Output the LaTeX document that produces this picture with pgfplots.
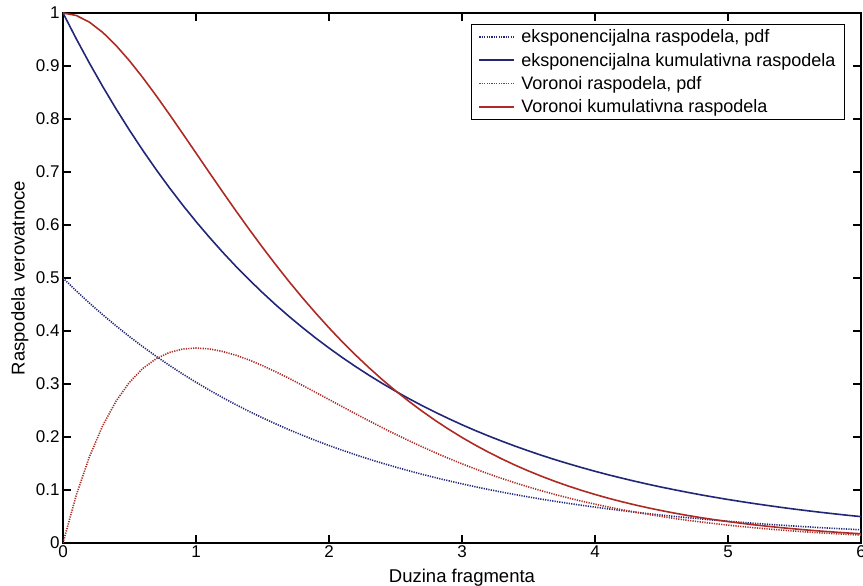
\documentclass[border=0pt]{standalone}
\usepackage{pgfplots}
\pgfplotsset{compat=1.18}
\usepackage{pgfplotstable}
\usepackage{fontspec}
\setmainfont{Liberation Sans}

\definecolor{expblue}{rgb}{0.13,0.15,0.47}
\definecolor{vorred}{rgb}{0.68,0.17,0.14}

% x, exponential pdf, exponential cumulative, Voronoi pdf, Voronoi cumulative
\pgfplotstableread{
x   epdf   ecdf   vpdf   vcdf
0.0 0.5000 1.0000 0.0000 1.0000
0.1 0.4756 0.9512 0.0905 0.9953
0.2 0.4524 0.9048 0.1637 0.9825
0.3 0.4304 0.8607 0.2222 0.9631
0.4 0.4094 0.8187 0.2681 0.9384
0.5 0.3894 0.7788 0.3033 0.9098
0.6 0.3704 0.7408 0.3293 0.8781
0.7 0.3523 0.7047 0.3476 0.8442
0.8 0.3352 0.6703 0.3595 0.8088
0.9 0.3188 0.6376 0.3659 0.7725
1.0 0.3033 0.6065 0.3679 0.7358
1.1 0.2885 0.5770 0.3662 0.6990
1.2 0.2744 0.5488 0.3614 0.6626
1.3 0.2610 0.5220 0.3543 0.6268
1.4 0.2483 0.4966 0.3452 0.5918
1.5 0.2362 0.4724 0.3347 0.5578
1.6 0.2247 0.4493 0.3230 0.5249
1.7 0.2137 0.4274 0.3106 0.4932
1.8 0.2033 0.4066 0.2975 0.4628
1.9 0.1934 0.3867 0.2842 0.4338
2.0 0.1839 0.3679 0.2707 0.4060
2.1 0.1750 0.3499 0.2572 0.3796
2.2 0.1664 0.3329 0.2438 0.3546
2.3 0.1583 0.3166 0.2306 0.3309
2.4 0.1506 0.3012 0.2177 0.3084
2.5 0.1433 0.2865 0.2052 0.2873
2.6 0.1363 0.2725 0.1931 0.2674
2.7 0.1296 0.2592 0.1815 0.2487
2.8 0.1233 0.2466 0.1703 0.2311
2.9 0.1173 0.2346 0.1596 0.2146
3.0 0.1116 0.2231 0.1494 0.1991
3.1 0.1061 0.2122 0.1397 0.1847
3.2 0.1009 0.2019 0.1304 0.1712
3.3 0.0960 0.1921 0.1217 0.1586
3.4 0.0913 0.1827 0.1135 0.1468
3.5 0.0869 0.1738 0.1057 0.1359
3.6 0.0826 0.1653 0.0984 0.1257
3.7 0.0786 0.1572 0.0915 0.1162
3.8 0.0748 0.1496 0.0850 0.1074
3.9 0.0711 0.1423 0.0789 0.0992
4.0 0.0677 0.1353 0.0733 0.0916
4.1 0.0644 0.1287 0.0679 0.0845
4.2 0.0612 0.1225 0.0630 0.0780
4.3 0.0582 0.1165 0.0583 0.0719
4.4 0.0554 0.1108 0.0540 0.0663
4.5 0.0527 0.1054 0.0500 0.0611
4.6 0.0501 0.1003 0.0462 0.0563
4.7 0.0477 0.0954 0.0427 0.0518
4.8 0.0454 0.0907 0.0395 0.0477
4.9 0.0431 0.0863 0.0365 0.0439
5.0 0.0410 0.0821 0.0337 0.0404
5.1 0.0390 0.0781 0.0311 0.0372
5.2 0.0371 0.0743 0.0287 0.0342
5.3 0.0353 0.0707 0.0265 0.0315
5.4 0.0336 0.0672 0.0244 0.0289
5.5 0.0320 0.0639 0.0225 0.0266
5.6 0.0304 0.0608 0.0207 0.0244
5.7 0.0289 0.0578 0.0191 0.0224
5.8 0.0275 0.0550 0.0176 0.0206
5.9 0.0262 0.0523 0.0162 0.0189
6.0 0.0249 0.0498 0.0149 0.0174
}\dist

\begin{document}
\begin{tikzpicture}
\useasboundingbox (-63pt,-43pt) rectangle (800pt,543pt);
\clip (-63pt,-43pt) rectangle (800pt,543pt);
\begin{axis}[
  at={(0pt,0pt)}, anchor=south west,
  scale only axis,
  width=798pt, height=530pt,
  xmin=0, xmax=6, ymin=0, ymax=1,
  xtick={0,1,2,3,4,5,6},
  ytick={0,0.1,0.2,0.3,0.4,0.5,0.6,0.7,0.8,0.9,1},
  yticklabels={0,0.1,0.2,0.3,0.4,0.5,0.6,0.7,0.8,0.9,1},
  tick align=inside,
  major tick length=8pt,
  tick style={black, line width=1.2pt},
  axis line style={black, line width=1.3pt},
  /pgf/number format/assume math mode=true,
  tick label style={font=\fontsize{17}{20}\selectfont},
  xticklabel style={yshift=1pt},
  xlabel={Duzina fragmenta},
  ylabel={Raspodela verovatnoce},
  every axis x label/.style={at={(axis description cs:0.5,-0.066)},anchor=center,
    font=\fontsize{18.5}{21}\selectfont},
  every axis y label/.style={at={(axis description cs:-0.054,0.5)},rotate=90,anchor=center,
    font=\fontsize{18.5}{21}\selectfont},
  legend cell align=left,
  legend style={
    at={(axis description cs:0.98,0.979)}, anchor=north east,
    draw=black, line width=1.1pt,
    font=\fontsize{18}{21}\selectfont,
    inner xsep=7pt, inner ysep=3pt,
    row sep=4.8pt,
    nodes={inner sep=2pt, line width=0.4pt},
  },
  legend image code/.code={\draw[#1] (0pt,0pt) -- (35pt,0pt); \path (39pt,0pt);},
]
\addplot[expblue, line width=1.6pt, dash pattern=on 1.2pt off 1.2pt] table[x=x,y=epdf] {\dist};
\addlegendentry{eksponencijalna raspodela, pdf}
\addplot[expblue, line width=1.6pt] table[x=x,y=ecdf] {\dist};
\addlegendentry{eksponencijalna kumulativna raspodela}
\addplot[vorred, line width=1.6pt, dash pattern=on 1.2pt off 1.2pt] table[x=x,y=vpdf] {\dist};
\addlegendentry{Voronoi raspodela, pdf}
\addplot[vorred, line width=1.6pt] table[x=x,y=vcdf] {\dist};
\addlegendentry{Voronoi kumulativna raspodela}
\end{axis}
\end{tikzpicture}
\end{document}
